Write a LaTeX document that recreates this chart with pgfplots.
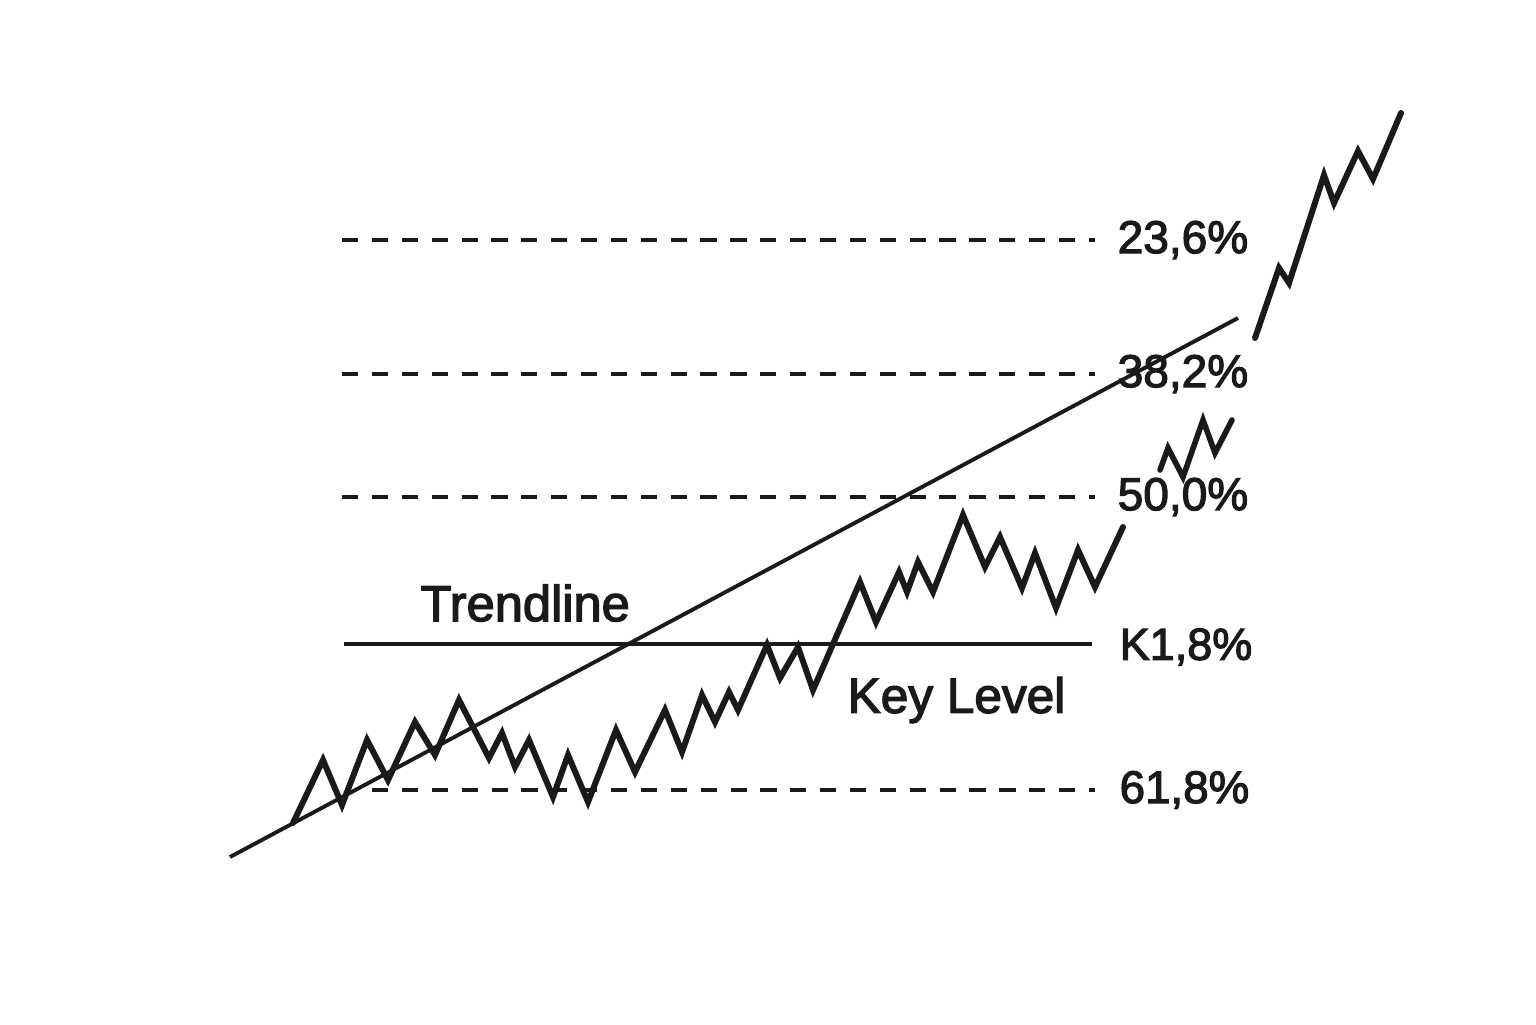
\documentclass[border=0pt]{standalone}
\usepackage{pgfplots}
\pgfplotsset{compat=1.18}
\usepackage{fontspec}
\setmainfont{Liberation Sans}[BoldFont={Liberation Sans}, BoldFeatures={FakeBold=2.6}]
\definecolor{ink}{HTML}{1A1A1A}
\begin{document}
\begin{tikzpicture}
\begin{axis}[
  width=15.36cm, height=10.24cm, scale only axis,
  xmin=0, xmax=1536, ymin=0, ymax=1024, y dir=reverse,
  hide axis, clip=false,
]
\path (rel axis cs:0,0) rectangle (rel axis cs:1,1);
% Fibonacci levels (dashed)
\addplot[ink, line width=1.0pt, dash pattern=on 4.6pt off 3.9pt] coordinates {(342,240) (1095,240)};
\addplot[ink, line width=1.0pt, dash pattern=on 4.6pt off 3.9pt] coordinates {(342,374) (1095,374)};
\addplot[ink, line width=1.0pt, dash pattern=on 4.6pt off 3.9pt] coordinates {(342,497) (1095,497)};
\addplot[ink, line width=1.0pt, dash pattern=on 4.6pt off 3.9pt] coordinates {(372,790) (1095,790)};
% key level
\addplot[ink, line width=1.0pt] coordinates {(344,644) (1092,644)};
% trendline
\addplot[ink, line width=1.1pt] coordinates {(230,857) (1238,318)};
% price zigzag
\addplot[ink, line width=1.7pt, line join=miter, miter limit=4, line cap=round] coordinates {
(293,823) (323,760) (342,805) (367,740) (388,780) (415,722) (435,755)
(459,700) (489,758) (502,733) (515,767) (529,740) (553,797) (568,755)
(588,802) (616,730) (635,772) (665,710) (682,752) (702,695) (715,722)
(729,692) (738,710) (767,645) (780,678) (798,647) (813,690) (860,582)
(876,622) (899,572) (907,592) (918,562) (933,592) (963,515) (985,567)
(1000,537) (1022,588) (1035,553) (1056,608) (1078,550) (1095,587) (1123,527)
};
\addplot[ink, line width=1.6pt, line join=miter, line cap=round] coordinates {
(1160,470) (1168,448) (1183,477) (1203,420) (1215,453) (1232,420)
};
\addplot[ink, line width=1.7pt, line join=miter, line cap=round] coordinates {
(1255,338) (1279,268) (1289,283) (1324,175) (1334,203) (1358,151) (1373,179) (1401,113)
};
% labels
\node[anchor=west, inner sep=0pt, font=\fontsize{13.1}{15}\selectfont\bfseries, text=ink] at (axis cs:1117,240) {23,6\%};
\node[anchor=west, inner sep=0pt, font=\fontsize{13.1}{15}\selectfont\bfseries, text=ink] at (axis cs:1117,374) {38,2\%};
\node[anchor=west, inner sep=0pt, font=\fontsize{13.1}{15}\selectfont\bfseries, text=ink] at (axis cs:1117,497) {50,0\%};
\node[anchor=west, inner sep=0pt, font=\fontsize{12.8}{15}\selectfont\bfseries, text=ink] at (axis cs:1119,647) {K1,8\%};
\node[anchor=west, inner sep=0pt, font=\fontsize{13}{15}\selectfont\bfseries, text=ink] at (axis cs:1119,790) {61,8\%};
\node[anchor=west, inner sep=0pt, font=\fontsize{14.4}{16}\selectfont\bfseries, text=ink] at (axis cs:420,603) {Trendline};
\node[anchor=west, inner sep=0pt, font=\fontsize{14.1}{16}\selectfont\bfseries, text=ink] at (axis cs:847,700) {Key Level};
\end{axis}
\end{tikzpicture}
\end{document}
